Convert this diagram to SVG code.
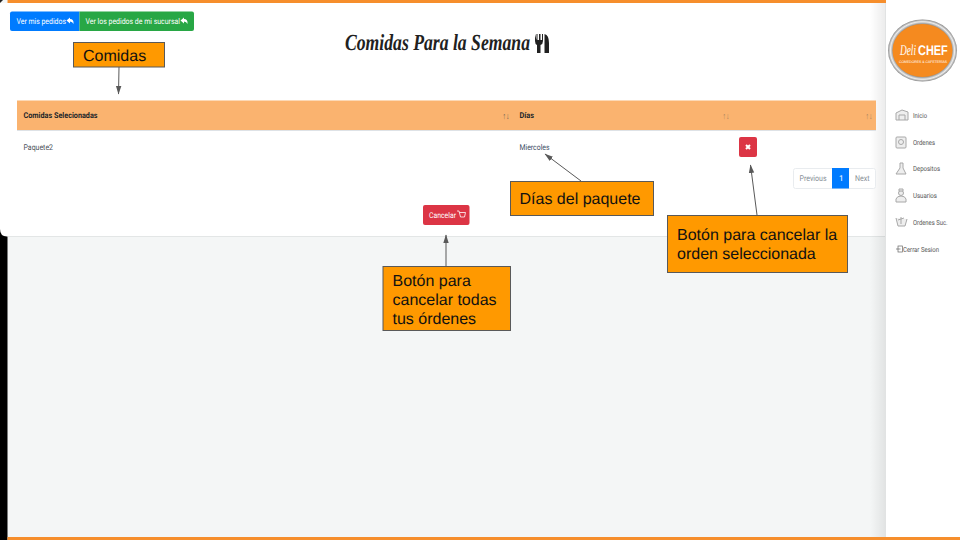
<svg xmlns="http://www.w3.org/2000/svg" width="960" height="540" viewBox="0 0 960 540">
<defs>
<marker id="ah" markerWidth="9" markerHeight="8" refX="8" refY="3.5" orient="auto" markerUnits="userSpaceOnUse"><path d="M0 0.8L8.500 3.5L0 6.200Z" fill="#595959"/></marker>
<linearGradient id="shade" x1="0" x2="1" y1="0" y2="0"><stop offset="0" stop-color="#000" stop-opacity="0"/><stop offset="1" stop-color="#000" stop-opacity="0.08"/></linearGradient>
<radialGradient id="ring"><stop offset="0.85" stop-color="#8f8f8f"/><stop offset="0.93" stop-color="#ececec"/><stop offset="1" stop-color="#8a8a8a"/></radialGradient>
</defs>
<style>
text{font-family:Roboto,"Liberation Sans",sans-serif;text-rendering:geometricPrecision}
.call rect{fill:#ff9900;stroke:#595959;stroke-width:1}
.call text{font-family:"Liberation Sans",Arial,sans-serif;font-size:16px;fill:#111}
.title{font-family:"Liberation Serif",serif;font-style:italic;font-weight:700;font-size:23px;fill:#212121}
.deli{font-family:"Liberation Serif",serif;font-style:italic;font-size:15px;fill:#fff}
.chef{font-family:"Liberation Sans",sans-serif;font-weight:700;font-size:14px;fill:#fff}
.cap{font-family:"Liberation Sans",sans-serif;font-size:3.500px;fill:#fff}
.th{font-size:8px;font-weight:700;fill:#212529}
.td{font-size:8px;fill:#495057}
.sort{font-size:9px;fill:#6f6355}
.btn{font-size:8px;fill:#fff}
.nav{font-size:7px;fill:#555}
.ic{fill:#eee;stroke:#a8a8a8;stroke-width:1}
.con{stroke:#595959;stroke-width:1;fill:none;marker-end:url(#ah)}
</style>
<rect width="960" height="540" fill="#f4f6f6"/>
<rect x="0" y="225" width="7.500" height="315" fill="#000"/>
<rect x="7.500" y="537" width="952.500" height="3" fill="#f68e2c"/>
<path d="M0 3H7.500V0H885V236.500H7Q0 236.500 0 229Z" fill="#fff"/>
<path d="M8 236.500H885" stroke="#e3e6e6" stroke-width="1"/>
<path d="M0 0H3L0 3Z" fill="#222"/>
<rect x="7.500" y="0" width="878.500" height="3" fill="#f68e2c"/>
<g id="sidebar">
<rect x="870" y="3" width="16" height="534" fill="url(#shade)"/>
<rect x="886" y="0" width="74" height="537" fill="#fff"/>
</g>
<g id="logo">
<ellipse cx="922.500" cy="50.500" rx="34.500" ry="31" fill="url(#ring)"/>
<ellipse cx="922.500" cy="50.500" rx="30" ry="26.500" fill="#f58a1f"/>
<text class="deli" transform="translate(900 55) scale(0.62 1)">Deli</text>
<text class="chef" transform="translate(918 55) scale(0.78 1)">CHEF</text>
<text class="cap" x="899" y="62.500" textLength="48" lengthAdjust="spacingAndGlyphs">COMEDORES &amp; CAFETERÍAS</text>
</g>
<g id="btn-mis">
<path d="M12 11.500H79.500V31H12Q10 31 10 29V13.500Q10 11.500 12 11.500Z" fill="#007bff"/>
<text class="btn" x="16.500" y="23.500" textLength="49.500" lengthAdjust="spacingAndGlyphs">Ver mis pedidos</text>
<path d="M66.500 20.500L70 17.500V19Q74 19 73.500 24Q72.500 21.500 70 21.500V23.500Z" fill="#fff"/>
</g>
<g id="btn-sucursal">
<path d="M79.500 11.500H192Q194 11.500 194 13.500V29Q194 31 192 31H79.500Z" fill="#28a745"/>
<text class="btn" x="85.500" y="23.500" textLength="94.500" lengthAdjust="spacingAndGlyphs">Ver los pedidos de mi sucursal</text>
<path d="M180.500 20.500L184 17.500V19Q188 19 187.500 24Q186.500 21.500 184 21.500V23.500Z" fill="#fff"/>
</g>
<g id="title">
<text class="title" x="345" y="50" textLength="185" lengthAdjust="spacingAndGlyphs">Comidas Para la Semana</text>
<path d="M535 34V41Q535 44 537 45V53H540.500V45Q543 44 543 41V34H542V40H540.500V34H539V40H537.500V34H536.500V40Z" fill="#212121"/>
<path d="M544.500 53V34Q549 35 549 43V53Z" fill="#212121"/>
</g>
<g id="table">
<rect x="17" y="100.500" width="859" height="29.500" fill="#fab36f"/>
<path d="M17 130.500H876" stroke="#dee2e6" stroke-width="1"/>
<text class="th" x="23.500" y="118" textLength="74" lengthAdjust="spacingAndGlyphs">Comidas Selecionadas</text>
<text class="th" x="519.500" y="118" textLength="14.500" lengthAdjust="spacingAndGlyphs">Días</text>
<text class="sort" x="502.500" y="119" textLength="7" lengthAdjust="spacingAndGlyphs">↑↓</text>
<text class="sort" x="722.500" y="119" textLength="7" lengthAdjust="spacingAndGlyphs" opacity="0.6">↑↓</text>
<text class="sort" x="865.500" y="119" textLength="7" lengthAdjust="spacingAndGlyphs" opacity="0.6">↑↓</text>
<text class="td" x="23.500" y="150" textLength="29.500" lengthAdjust="spacingAndGlyphs">Paquete2</text>
<text class="td" x="519.500" y="150" style="fill:#3d4f66" textLength="30" lengthAdjust="spacingAndGlyphs">Miercoles</text>
</g>
<g id="btn-x">
<rect x="739" y="137" width="18" height="20" rx="2" fill="#dc3545"/>
<path d="M746 145L750 149M750 145L746 149" stroke="#fff" stroke-width="2"/>
</g>
<g id="pagination">
<rect x="793.500" y="168.500" width="82" height="20" rx="2" fill="#fff" stroke="#e9ecef"/>
<rect x="832" y="168" width="17" height="20.500" fill="#007bff"/>
<text x="799.500" y="181" font-size="8" fill="#868e96" textLength="27" lengthAdjust="spacingAndGlyphs">Previous</text>
<text x="839" y="181" font-size="8" fill="#fff">1</text>
<text x="855" y="181" font-size="8" fill="#868e96" textLength="14.500" lengthAdjust="spacingAndGlyphs">Next</text>
</g>
<g id="btn-cancelar">
<rect x="423" y="205" width="46.500" height="20" rx="2" fill="#dc3545"/>
<text class="btn" x="429" y="218" textLength="27" lengthAdjust="spacingAndGlyphs">Cancelar</text>
<path d="M457 211H459L460.500 217H464.500L465.500 212.500H459.500" fill="none" stroke="#fff" stroke-width="0.800"/>
</g>
<g id="nav">
<g id="nav-inicio"><path class="ic" d="M896 120V113L902 110L908 112V120ZM899 120V115H905V120"/><text class="nav" x="913" y="117.500" textLength="14" lengthAdjust="spacingAndGlyphs">Inicio</text></g>
<g id="nav-ordenes"><rect class="ic" x="896" y="137" width="10" height="11" rx="1"/><circle class="ic" cx="901" cy="142" r="2.500"/><text class="nav" x="913" y="144.500" textLength="22" lengthAdjust="spacingAndGlyphs">Ordenes</text></g>
<g id="nav-depositos"><path class="ic" d="M896 174H906L903 168V163H900V168Z"/><text class="nav" x="913" y="171" textLength="27" lengthAdjust="spacingAndGlyphs">Depositos</text></g>
<g id="nav-usuarios"><circle class="ic" cx="901" cy="193" r="2.500"/><path class="ic" d="M899 189H903V191H899ZM896 202V199Q897 196 901 196Q905 196 906 199V202Z"/><text class="nav" x="913" y="198" textLength="24" lengthAdjust="spacingAndGlyphs">Usuarios</text></g>
<g id="nav-sucursal"><path class="ic" d="M896 218L898 226H905L907 219M901 224V217M898 220L904 218"/><text class="nav" x="913" y="224.500" textLength="34.500" lengthAdjust="spacingAndGlyphs">Ordenes Suc.</text></g>
<g id="nav-cerrar"><rect x="898" y="246" width="4.500" height="6" fill="none" stroke="#666" stroke-width="0.700"/><path d="M896 249H900.500" stroke="#666" stroke-width="0.700"/><text class="nav" x="903" y="251.500" textLength="36" lengthAdjust="spacingAndGlyphs">Cerrar Sesion</text></g>
</g>
<g id="connectors">
<path class="con" d="M119 67L118.500 94"/>
<path class="con" d="M581 181L545 154"/>
<path class="con" d="M757 215L750.500 165"/>
<path class="con" d="M446 266V235"/>
</g>
<g id="callout-comidas" class="call"><rect x="73.500" y="42.500" width="91" height="24.500"/><text x="83" y="61">Comidas</text></g>
<g id="callout-dias" class="call"><rect x="510.500" y="181.500" width="143" height="34"/><text x="519.500" y="204">Días del paquete</text></g>
<g id="callout-orden" class="call"><rect x="667.500" y="215.500" width="180" height="57"/><text x="677" y="240">Botón para cancelar la</text><text x="677" y="259">orden seleccionada</text></g>
<g id="callout-todas" class="call"><rect x="383" y="266.500" width="127.500" height="64"/><text x="392.500" y="286">Botón para</text><text x="392.500" y="305">cancelar todas</text><text x="392.500" y="324">tus órdenes</text></g>
</svg>
